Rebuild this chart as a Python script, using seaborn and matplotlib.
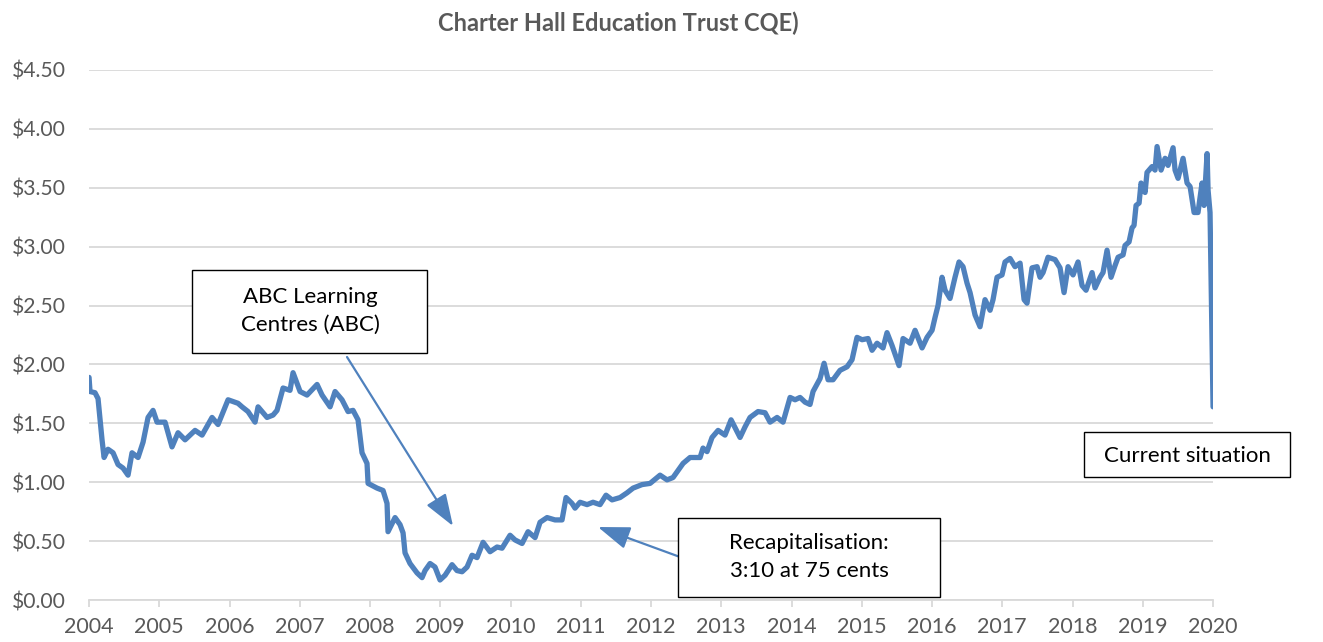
"""Charter Hall Education Trust (CQE) price history chart."""

import matplotlib

matplotlib.use("Agg")

import matplotlib.pyplot as plt
import pandas as pd
import seaborn as sns
from matplotlib.patches import FancyArrowPatch, Rectangle

# decimal year, price in AUD
years = [
    2004.000, 2004.014, 2004.085, 2004.128, 2004.185, 2004.214, 2004.270, 2004.342,
    2004.413, 2004.484, 2004.555, 2004.612, 2004.698, 2004.769, 2004.840, 2004.911,
    2004.968, 2005.082, 2005.181, 2005.267, 2005.367, 2005.509, 2005.609, 2005.751,
    2005.836, 2005.979, 2006.121, 2006.178, 2006.263, 2006.363, 2006.406, 2006.534,
    2006.619, 2006.676, 2006.762, 2006.861, 2006.904, 2007.004, 2007.103, 2007.246,
    2007.317, 2007.431, 2007.502, 2007.601, 2007.687, 2007.758, 2007.829, 2007.886,
    2007.957, 2007.972, 2008.100, 2008.185, 2008.242, 2008.256, 2008.356, 2008.427,
    2008.470, 2008.498, 2008.569, 2008.669, 2008.740, 2008.783, 2008.854, 2008.925,
    2008.996, 2009.068, 2009.167, 2009.238, 2009.310, 2009.381, 2009.452, 2009.523,
    2009.609, 2009.708, 2009.808, 2009.879, 2009.993, 2010.064, 2010.164, 2010.249,
    2010.349, 2010.420, 2010.520, 2010.633, 2010.733, 2010.790, 2010.875, 2010.918,
    2010.989, 2011.089, 2011.174, 2011.274, 2011.359, 2011.445, 2011.559, 2011.658,
    2011.744, 2011.872, 2011.986, 2012.128, 2012.228, 2012.313, 2012.456, 2012.555,
    2012.598, 2012.698, 2012.740, 2012.797, 2012.868, 2012.954, 2013.053, 2013.139,
    2013.224, 2013.267, 2013.338, 2013.409, 2013.523, 2013.623, 2013.694, 2013.794,
    2013.879, 2013.979, 2014.050, 2014.121, 2014.192, 2014.263, 2014.306, 2014.406,
    2014.463, 2014.520, 2014.591, 2014.690, 2014.790, 2014.861, 2014.932, 2015.004,
    2015.089, 2015.146, 2015.217, 2015.302, 2015.359, 2015.431, 2015.530, 2015.587,
    2015.687, 2015.758, 2015.858, 2015.929, 2016.000, 2016.043, 2016.085, 2016.142,
    2016.185, 2016.256, 2016.327, 2016.384, 2016.441, 2016.498, 2016.541, 2016.612,
    2016.683, 2016.754, 2016.826, 2016.868, 2016.925, 2016.996, 2017.039, 2017.110,
    2017.181, 2017.253, 2017.310, 2017.352, 2017.423, 2017.495, 2017.537, 2017.580,
    2017.651, 2017.751, 2017.822, 2017.879, 2017.936, 2018.007, 2018.078, 2018.135,
    2018.192, 2018.278, 2018.320, 2018.391, 2018.434, 2018.491, 2018.548, 2018.605,
    2018.648, 2018.719, 2018.747, 2018.804, 2018.847, 2018.875, 2018.904, 2018.947,
    2018.975, 2019.032, 2019.060, 2019.132, 2019.174, 2019.203, 2019.260, 2019.317,
    2019.359, 2019.431, 2019.459, 2019.502, 2019.573, 2019.630, 2019.673, 2019.730,
    2019.786, 2019.843, 2019.872, 2019.915, 2019.929, 2019.957, 2020.000,
]
prices = [
    1.89, 1.77, 1.76, 1.71, 1.36, 1.21, 1.28, 1.25,
    1.15, 1.12, 1.06, 1.25, 1.21, 1.34, 1.55, 1.61,
    1.51, 1.51, 1.30, 1.42, 1.36, 1.44, 1.40, 1.55,
    1.49, 1.70, 1.67, 1.64, 1.60, 1.51, 1.64, 1.55,
    1.57, 1.61, 1.80, 1.78, 1.93, 1.77, 1.74, 1.83,
    1.74, 1.64, 1.77, 1.70, 1.60, 1.61, 1.53, 1.25,
    1.16, 0.99, 0.95, 0.93, 0.82, 0.58, 0.70, 0.64,
    0.57, 0.40, 0.31, 0.23, 0.19, 0.25, 0.31, 0.28,
    0.17, 0.21, 0.30, 0.25, 0.24, 0.28, 0.38, 0.36,
    0.49, 0.41, 0.45, 0.44, 0.55, 0.51, 0.48, 0.58,
    0.53, 0.66, 0.70, 0.68, 0.68, 0.87, 0.82, 0.78,
    0.83, 0.81, 0.83, 0.81, 0.89, 0.85, 0.87, 0.91,
    0.95, 0.98, 0.99, 1.06, 1.02, 1.04, 1.16, 1.21,
    1.21, 1.21, 1.29, 1.26, 1.38, 1.44, 1.40, 1.53,
    1.43, 1.38, 1.47, 1.55, 1.60, 1.59, 1.51, 1.55,
    1.51, 1.72, 1.70, 1.72, 1.68, 1.66, 1.77, 1.88,
    2.01, 1.87, 1.87, 1.95, 1.98, 2.04, 2.23, 2.21,
    2.22, 2.12, 2.18, 2.14, 2.27, 2.16, 1.99, 2.22,
    2.18, 2.29, 2.14, 2.23, 2.29, 2.40, 2.50, 2.74,
    2.63, 2.56, 2.74, 2.87, 2.83, 2.69, 2.61, 2.42,
    2.32, 2.55, 2.46, 2.55, 2.74, 2.76, 2.87, 2.90,
    2.83, 2.86, 2.55, 2.52, 2.82, 2.83, 2.74, 2.78,
    2.91, 2.89, 2.82, 2.61, 2.83, 2.76, 2.87, 2.67,
    2.63, 2.78, 2.65, 2.74, 2.78, 2.97, 2.74, 2.84,
    2.91, 2.93, 3.01, 3.04, 3.16, 3.18, 3.35, 3.37,
    3.54, 3.46, 3.63, 3.68, 3.65, 3.85, 3.65, 3.75,
    3.69, 3.84, 3.65, 3.58, 3.75, 3.54, 3.51, 3.29,
    3.29, 3.54, 3.35, 3.79, 3.48, 3.29, 1.64,
]
year_ticks = list(range(2004, 2021))
price_ticks = [0.0, 0.5, 1.0, 1.5, 2.0, 2.5, 3.0, 3.5, 4.0, 4.5]

title = "Charter Hall Education Trust CQE)"
abc_label = "ABC Learning\nCentres (ABC)"
recap_label = "Recapitalisation:\n3:10 at 75 cents"
current_label = "Current situation"

LINE_BLUE = "#4F81BD"
TEXT_GREY = "#595959"

sns.set_theme(style="white")
plt.rcParams["font.family"] = ["Lato", "DejaVu Sans"]

df = pd.DataFrame({"year": years, "price": prices})

fig = plt.figure(figsize=(13.23, 6.42), dpi=100)
ax = fig.add_axes([0.0673, 0.0654, 0.8496, 0.8256])

sns.lineplot(data=df, x="year", y="price", ax=ax, color=LINE_BLUE,
             linewidth=3.8, sort=False, estimator=None, zorder=3)

ax.set_xlim(2004, 2020)
ax.set_ylim(0, 4.5)
ax.set_xticks(year_ticks)
ax.set_xticklabels([str(y) for y in year_ticks])
ax.set_yticks(price_ticks)
ax.set_yticklabels([f"${p:.2f}" for p in price_ticks])
ax.set_xlabel("")
ax.set_ylabel("")

ax.grid(axis="y", color="#D9D9D9", linewidth=1.3, zorder=0)
ax.grid(axis="x", visible=False)
for side in ["top", "right", "left"]:
    ax.spines[side].set_visible(False)
ax.spines["bottom"].set_color("#D9D9D9")
ax.spines["bottom"].set_linewidth(1.3)
ax.tick_params(axis="x", direction="out", length=5, width=1.3, color="#D9D9D9",
               labelsize=15.5, labelcolor=TEXT_GREY, pad=7, bottom=True)
ax.tick_params(axis="y", length=0, labelsize=15.2, labelcolor=TEXT_GREY, pad=17)

fig.text(0.4675, 0.963, title, ha="center", va="center", fontsize=17,
         fontweight="bold", color=TEXT_GREY)

# annotation boxes (figure fraction)
boxes = [
    (0.1451, 0.4502, 0.1776, 0.1293, 0.2343, 0.5156, abc_label),
    (0.5125, 0.0701, 0.1980, 0.1231, 0.6115, 0.1324, recap_label),
    (0.8193, 0.2570, 0.1557, 0.0701, 0.8972, 0.2897, current_label),
]
for x0, y0, w, h, tx, ty, label in boxes:
    fig.patches.append(Rectangle((x0, y0), w, h, transform=fig.transFigure,
                                 facecolor="white", edgecolor="black",
                                 linewidth=1.0, zorder=5))
    fig.text(tx, ty, label, ha="center", va="center", fontsize=16,
             color="black", linespacing=1.45, zorder=6)

arrow_style = dict(arrowstyle="-|>,head_length=1.4,head_width=0.5",
                   color=LINE_BLUE, linewidth=1.6, shrinkA=0, shrinkB=0,
                   mutation_scale=14)
fig.add_artist(FancyArrowPatch((0.2623, 0.4439), (0.3424, 0.1807),
                               transform=fig.transFigure, **arrow_style))
fig.add_artist(FancyArrowPatch((0.5140, 0.1324), (0.4520, 0.1791),
                               transform=fig.transFigure, **arrow_style))

fig.savefig("out.png", dpi=100)
plt.close(fig)
